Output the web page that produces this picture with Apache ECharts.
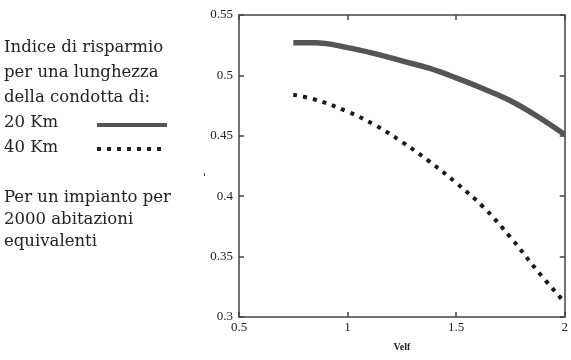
<!DOCTYPE html>
<html><head><meta charset="utf-8">
<script src="https://cdn.jsdelivr.net/npm/echarts@6/dist/echarts.min.js"></script>
<style>html,body{margin:0;padding:0;background:#fff}#c{width:571px;height:360px}</style>
</head><body><div id="c"></div>
<script>
const xValues = [0.75, 0.85, 1.0, 1.125, 1.25, 1.375, 1.5, 1.625, 1.75, 1.875, 2.0];
const km20 = [0.527, 0.527, 0.523, 0.518, 0.512, 0.506, 0.498, 0.489, 0.479, 0.466, 0.451];
const km40 = [0.484, 0.480, 0.470, 0.459, 0.445, 0.429, 0.411, 0.391, 0.366, 0.338, 0.312];
const legendLines = ['Indice di risparmio', 'per una lunghezza', 'della condotta di:'];
const seriesNames = ['20 Km', '40 Km'];
const noteLines = ['Per un impianto per', '2000 abitazioni', 'equivalenti'];
const xName = 'Velf';

const axisColor = '#444';
const chart = echarts.init(document.getElementById('c'), null, {renderer: 'canvas'});
const pairs = a => xValues.map((x, i) => [x, a[i]]);
const font = '16.5px "DejaVu Serif"';
const graphics = [];
legendLines.forEach((t, i) => graphics.push({type: 'text', x: 4, y: 48 + i * 25, style: {text: t, fill: '#222', font: font, verticalAlign: 'middle'}}));
seriesNames.forEach((t, i) => graphics.push({type: 'text', x: 4, y: 123 + i * 25, style: {text: t, fill: '#222', font: font, verticalAlign: 'middle'}}));
graphics.push({type: 'line', shape: {x1: 97, y1: 125, x2: 167, y2: 125}, style: {stroke: '#555', lineWidth: 4}});
graphics.push({type: 'line', shape: {x1: 97, y1: 149, x2: 165, y2: 149}, style: {stroke: '#222', lineWidth: 4, lineDash: [4, 6]}});
noteLines.forEach((t, i) => graphics.push({type: 'text', x: 4, y: 198 + i * 22, style: {text: t, fill: '#222', font: font, verticalAlign: 'middle'}}));
graphics.push({type: 'text', x: 203, y: 178, style: {text: "'", fill: '#333', font: '11px "DejaVu Serif"', verticalAlign: 'middle'}});

const axisBase = {
  axisLine: {show: true, lineStyle: {color: axisColor, width: 1.5}},
  axisTick: {show: true, inside: true, length: 5, lineStyle: {color: axisColor, width: 1.5}},
  splitLine: {show: false}
};
chart.setOption({
  animation: false,
  backgroundColor: '#fff',
  grid: {left: 239, right: 3, top: 15, bottom: 43, containLabel: false},
  graphic: graphics,
  xAxis: [
    Object.assign({type: 'value', min: 0.5, max: 2, interval: 0.5, name: xName, nameLocation: 'middle', nameGap: 25,
      nameTextStyle: {fontFamily: 'Liberation Serif', fontSize: 10, color: '#222', fontWeight: 'bold'},
      axisLabel: {fontFamily: 'Liberation Serif', fontSize: 13, color: '#222', margin: 4, formatter: v => String(v)}}, axisBase),
    Object.assign({type: 'value', position: 'top', min: 0.5, max: 2, interval: 0.5, axisLabel: {show: false}}, axisBase)
  ],
  yAxis: [
    Object.assign({type: 'value', min: 0.3, max: 0.55, interval: 0.05,
      axisLabel: {fontFamily: 'Liberation Serif', fontSize: 13, color: '#222', margin: 6, formatter: v => String(+v.toFixed(2))}}, axisBase),
    Object.assign({type: 'value', position: 'right', min: 0.3, max: 0.55, interval: 0.05, axisLabel: {show: false}}, axisBase)
  ],
  series: [
    {name: seriesNames[0], type: 'line', data: pairs(km20), smooth: 0.4, showSymbol: false,
      lineStyle: {color: '#555', width: 5.5, cap: 'butt'}, clip: true},
    {name: seriesNames[1], type: 'line', data: pairs(km40), smooth: 0.4, showSymbol: false,
      lineStyle: {color: '#1a1a1a', width: 4, type: [4, 6], cap: 'butt'}, clip: true}
  ]
});
</script></body></html>
